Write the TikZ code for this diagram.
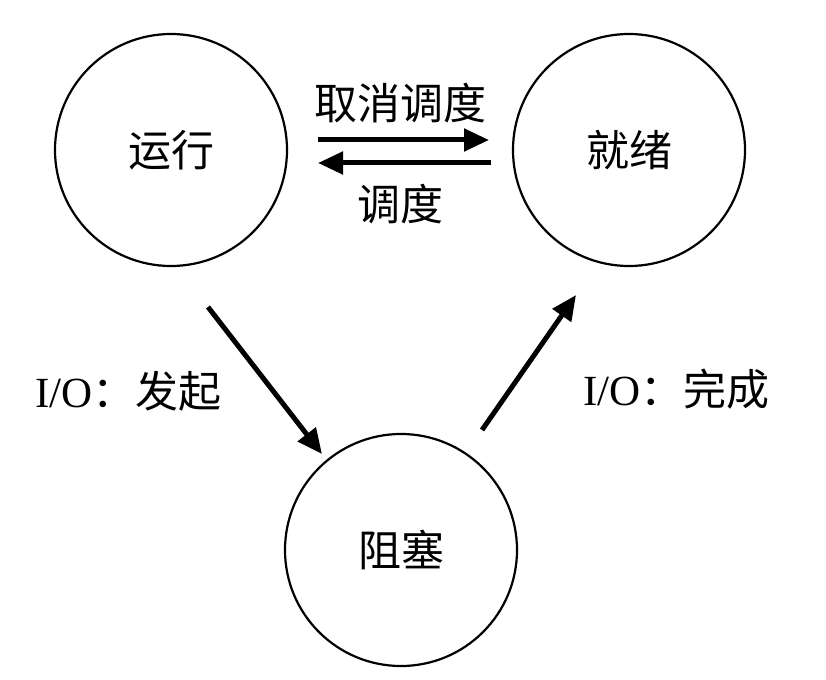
\documentclass[tikz,border=0pt]{standalone}
\usepackage{fontspec}
\setmainfont{Liberation Serif}
\newfontfamily\cjk{Noto Sans CJK SC}
\usetikzlibrary{arrows.meta}
\begin{document}
\begin{tikzpicture}[x=1pt,y=-1pt,
  state/.style={circle,draw,line width=2.2pt,minimum size=232pt,inner sep=0pt,font=\cjk\fontsize{43}{43}\selectfont},
  conn/.style={line width=5pt,-{Triangle[length=25pt,width=22pt]}},
  lab/.style={font=\fontsize{43}{43}\selectfont,inner sep=0pt}]
\useasboundingbox[fill=white] (0,0) rectangle (826,679);
\node[state] (run) at (171,150) {运行};
\node[state] (ready) at (629,150) {就绪};
\node[state] (block) at (401,550) {阻塞};
\coordinate (a1) at (318,140);
\coordinate (a2) at (489,140);
\coordinate (b1) at (491,163);
\coordinate (b2) at (318,163);
\coordinate (c1) at (208,307);
\coordinate (c2) at (322,454);
\coordinate (d1) at (482,430);
\coordinate (d2) at (576,295);
\draw[conn] (a1) -- (a2);
\draw[conn] (b1) -- (b2);
\draw[conn] (c1) -- (c2);
\draw[conn] (d1) -- (d2);
\node[lab] (l1) at (400,103) {\cjk 取消调度};
\node[lab] (l2) at (400,204) {\cjk 调度};
\node[lab,anchor=west] (l3) at (35,391) {I/O{\cjk ：发起}};
\node[lab,anchor=west] (l4) at (583,389) {I/O{\cjk ：完成}};
\end{tikzpicture}
\end{document}
